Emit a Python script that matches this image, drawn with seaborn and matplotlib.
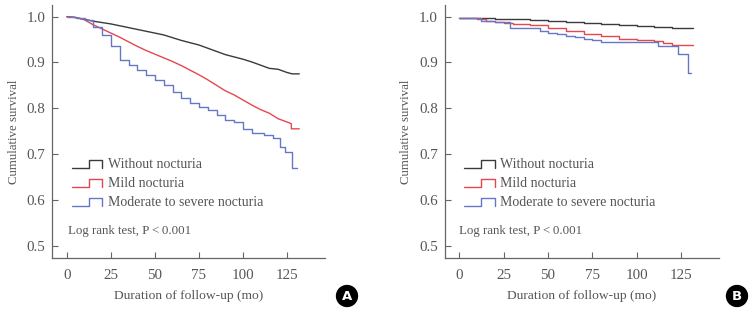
import numpy as np
import pandas as pd
import matplotlib
matplotlib.use("Agg")
import matplotlib.pyplot as plt
from matplotlib.lines import Line2D
from matplotlib.legend_handler import HandlerBase
import seaborn as sns

# ---------------- data ----------------
groups = ["Without nocturia", "Mild nocturia", "Moderate to severe nocturia"]
colors = ["#3a3a3a", "#e5474f", "#6677c6"]

# Panel A
a_without_t = [0, 5, 10, 15, 20, 25, 30, 35, 40, 45, 50, 55, 60, 65, 70, 75, 80, 85, 90, 95, 100, 105, 110, 115, 120, 125, 128, 132]
a_without_s = [1.0, 0.998, 0.994, 0.990, 0.987, 0.984, 0.980, 0.976, 0.972, 0.968, 0.964, 0.960, 0.954, 0.948, 0.943, 0.938, 0.931, 0.924, 0.917, 0.912, 0.907, 0.901, 0.894, 0.887, 0.885, 0.878, 0.875, 0.875]
a_mild_t = [0, 5, 10, 15, 20, 25, 30, 35, 40, 45, 50, 55, 60, 65, 70, 75, 80, 85, 90, 95, 100, 105, 110, 115, 120, 125, 127.5, 127.5, 132]
a_mild_s = [1.0, 0.998, 0.993, 0.982, 0.973, 0.964, 0.955, 0.945, 0.935, 0.926, 0.918, 0.910, 0.902, 0.893, 0.883, 0.873, 0.862, 0.850, 0.838, 0.829, 0.818, 0.807, 0.797, 0.789, 0.777, 0.770, 0.766, 0.755, 0.755]
a_mod_t = [0, 5, 10, 15, 20, 25, 30, 35, 40, 45, 50, 55, 60, 65, 70, 75, 80, 85, 90, 95, 100, 105, 112, 117, 121, 124, 128, 130.5]
a_mod_s = [1.0, 0.998, 0.992, 0.978, 0.960, 0.935, 0.906, 0.895, 0.884, 0.872, 0.862, 0.850, 0.835, 0.822, 0.812, 0.803, 0.797, 0.785, 0.774, 0.770, 0.754, 0.745, 0.742, 0.735, 0.716, 0.704, 0.670, 0.670]

# Panel B
b_without_t = [0, 10, 20, 30, 40, 50, 60, 70, 80, 90, 100, 110, 120, 132]
b_without_s = [0.997, 0.996, 0.995, 0.994, 0.992, 0.990, 0.988, 0.986, 0.984, 0.982, 0.979, 0.978, 0.976, 0.975]
b_mild_t = [0, 10, 15, 20, 25, 30, 40, 50, 60, 70, 80, 90, 100, 110, 115, 120, 132]
b_mild_s = [0.997, 0.995, 0.991, 0.989, 0.986, 0.984, 0.981, 0.976, 0.969, 0.963, 0.957, 0.952, 0.948, 0.946, 0.942, 0.939, 0.939]
b_mod_t = [0, 10, 12, 20, 28.8, 45.7, 50, 55, 60, 65, 70, 75, 80, 111.8, 123.2, 128.8, 130.4]
b_mod_s = [0.997, 0.996, 0.991, 0.989, 0.975, 0.969, 0.965, 0.962, 0.957, 0.955, 0.951, 0.948, 0.945, 0.936, 0.919, 0.876, 0.876]

y_ticks = [0.5, 0.6, 0.7, 0.8, 0.9, 1.0]
x_ticks = [0, 25, 50, 75, 100, 125]


def make_df(ts, ss):
    frames = []
    for g, t, s in zip(groups, ts, ss):
        frames.append(pd.DataFrame({"time": t, "surv": s, "group": g}))
    return pd.concat(frames, ignore_index=True)


df_a = make_df([a_without_t, a_mild_t, a_mod_t], [a_without_s, a_mild_s, a_mod_s])
df_b = make_df([b_without_t, b_mild_t, b_mod_t], [b_without_s, b_mild_s, b_mod_s])

# ---------------- style ----------------
sns.set_style("ticks")
plt.rcParams["font.family"] = ["Liberation Serif", "DejaVu Serif"]
txt = "#555555"


class StepHandler(HandlerBase):
    def create_artists(self, legend, orig_handle, xdescent, ydescent,
                       width, height, fontsize, trans):
        x = np.array([0, 0.55, 0.55, 1.0, 1.0]) * width - xdescent
        y = np.array([0.05, 0.05, 0.85, 0.85, 0.05]) * height - ydescent
        ln = Line2D(x, y, color=orig_handle.get_color(), lw=1.0)
        ln.set_transform(trans)
        return [ln]


fig = plt.figure(figsize=(7.51, 3.12), dpi=100)
ax_a = fig.add_axes([52.3 / 751, 1 - 258 / 312, 272.7 / 751, 253.3 / 312])
ax_b = fig.add_axes([444.7 / 751, 1 - 258 / 312, 274.6 / 751, 253.3 / 312])

pal = dict(zip(groups, colors))

# Panel A: near-continuous curves for the large groups, visible steps for the small group
smooth_a = df_a[df_a["group"] != groups[2]]
step_a = df_a[df_a["group"] == groups[2]]
sns.lineplot(data=smooth_a, x="time", y="surv", hue="group", palette=pal,
             estimator=None, sort=False, lw=1.0, legend=False, ax=ax_a)
sns.lineplot(data=step_a, x="time", y="surv", hue="group", palette=pal,
             drawstyle="steps-post", estimator=None, lw=1.0, legend=False, ax=ax_a)

sns.lineplot(data=df_b, x="time", y="surv", hue="group", palette=pal,
             drawstyle="steps-post", estimator=None, lw=1.0, legend=False, ax=ax_b)

for ax, letter, lx, tx, letter_x in [
    (ax_a, "A", 0.072, 0.0576, 347),
    (ax_b, "B", 0.0703, 0.052, 737),
]:
    ax.set_xlim(-8.3, 146.6)
    ax.set_ylim(0.473, 1.026)
    ax.set_xticks(x_ticks)
    ax.set_yticks(y_ticks)
    ax.set_yticklabels([f"{v:.1f}" for v in y_ticks])
    ax.tick_params(direction="in", length=4, width=0.8, colors="#666666",
                   labelcolor=txt, labelsize=10.8, pad=8)
    ax.tick_params(axis="y", pad=5)
    for side in ["top", "right"]:
        ax.spines[side].set_visible(False)
    for side in ["left", "bottom"]:
        ax.spines[side].set_color("#666666")
        ax.spines[side].set_linewidth(0.9)
    ax.set_xlabel("Duration of follow-up (mo)", color=txt, fontsize=9.7, labelpad=6)
    ax.set_ylabel("Cumulative survival", color=txt, fontsize=9.3, labelpad=5)

    handles = [Line2D([0], [0], color=c) for c in colors]
    leg = ax.legend(handles, groups, handler_map={Line2D: StepHandler()},
                    loc="upper left", bbox_to_anchor=(lx, 0.393),
                    frameon=False, borderpad=0, borderaxespad=0,
                    handlelength=2.2, handletextpad=0.4, labelspacing=0.42,
                    fontsize=10)
    for t in leg.get_texts():
        t.set_color(txt)
    ax.text(tx, 0.107, "Log rank test, P\u2009<\u20090.001", transform=ax.transAxes,
            ha="left", va="center", color=txt, fontsize=9.3)

    fig.text(letter_x / 751, 1 - 296 / 312, letter, ha="center", va="center",
             color="white", fontweight="bold", fontsize=9.5, family="DejaVu Sans",
             bbox=dict(boxstyle="circle,pad=0.3", fc="black", ec="black"))

fig.savefig("out.png", dpi=100)
